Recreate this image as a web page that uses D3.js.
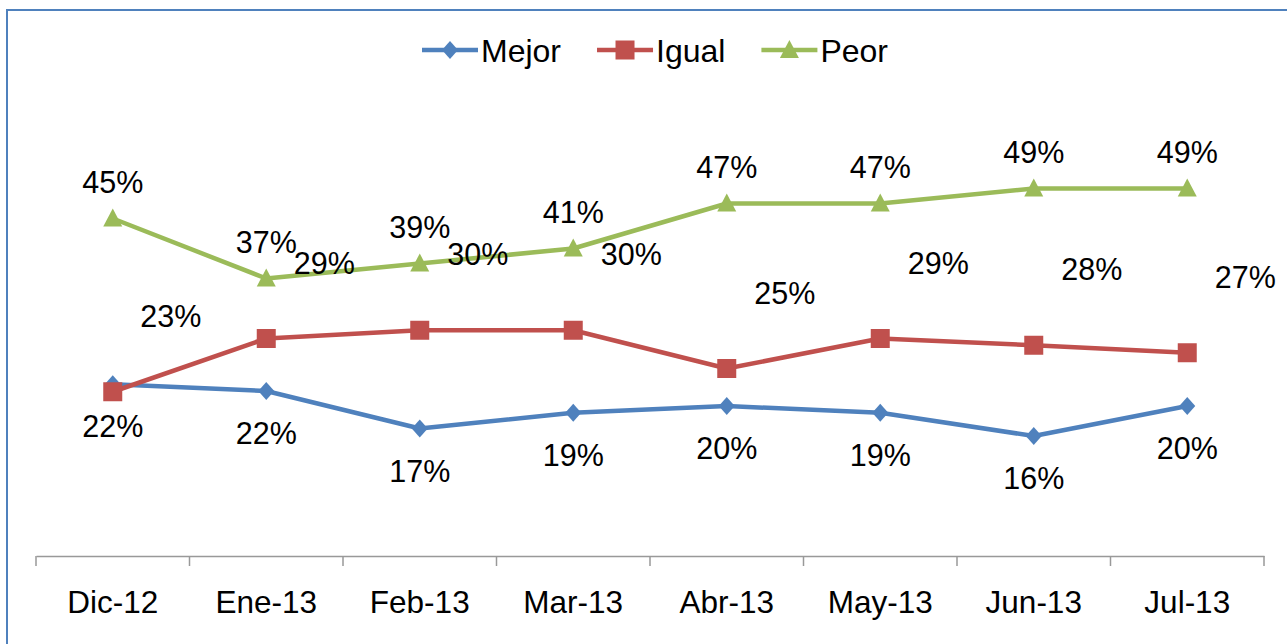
<!DOCTYPE html>
<html>
<head>
<meta charset="utf-8">
<script src="https://cdn.jsdelivr.net/npm/d3@7"></script>
<style>
  body { margin: 0; background: #fff; }
  text { font-family: "Liberation Sans", Arial, sans-serif; }
</style>
</head>
<body>
<div id="chart"></div>
<script>
const categories = ['Dic-12', 'Ene-13', 'Feb-13', 'Mar-13', 'Abr-13', 'May-13', 'Jun-13', 'Jul-13'];
const mejor = [22.9, 22.0, 17.0, 19.1, 20.0, 19.1, 16.0, 20.0];
const igual = [21.9, 29.0, 30.1, 30.1, 25.0, 29.0, 28.1, 27.1];
const peor = [45, 37, 39, 41, 47, 47, 49, 49];
const mejorLabels = ['22%', '22%', '17%', '19%', '20%', '19%', '16%', '20%'];
const igualLabels = ['23%', '29%', '30%', '30%', '25%', '29%', '28%', '27%'];
const peorLabels = ['45%', '37%', '39%', '41%', '47%', '47%', '49%', '49%'];
const seriesNames = ['Mejor', 'Igual', 'Peor'];

const width = 1287;
const height = 644;
const margin = { top: 106, bottom: 88, left: 36, right: 23 };

const series = [
  { name: seriesNames[0], values: mejor, labels: mejorLabels, color: '#4F81BD', shape: 'diamond', dx: 0, dy: 53 },
  { name: seriesNames[1], values: igual, labels: igualLabels, color: '#C0504D', shape: 'square', dx: 58, dy: -65 },
  { name: seriesNames[2], values: peor, labels: peorLabels, color: '#9BBB59', shape: 'triangle', dx: 0, dy: -26 },
];

const svg = d3.select('#chart')
  .append('svg')
  .attr('width', width)
  .attr('height', height);

// chart border
svg.append('rect')
  .attr('x', 7).attr('y', 10)
  .attr('width', width + 20).attr('height', height + 20)
  .attr('fill', 'none')
  .attr('stroke', '#4F81BD')
  .attr('stroke-width', 2);

const x = d3.scaleBand()
  .domain(categories)
  .range([margin.left, width - margin.right])
  .padding(0);

const y = d3.scaleLinear()
  .domain([0, 60])
  .range([height - margin.bottom, margin.top]);

const cx = d => x(d) + x.bandwidth() / 2;

function marker(sel, shape, color) {
  if (shape === 'diamond') {
    sel.append('path').attr('d', 'M0,-9L8,0L0,9L-8,0Z').attr('fill', color);
  } else if (shape === 'square') {
    sel.append('rect').attr('x', -9.5).attr('y', -9.5).attr('width', 19).attr('height', 19).attr('fill', color);
  } else {
    sel.append('path').attr('d', 'M0,-10L9.5,8L-9.5,8Z').attr('fill', color);
  }
}

// x axis
const xAxis = svg.append('g')
  .attr('transform', `translate(0,${y(0)})`)
  .call(d3.axisBottom(x).tickSize(0).tickSizeOuter(0));
xAxis.select('.domain').attr('stroke', '#999').attr('stroke-width', 1.5);
xAxis.selectAll('text')
  .attr('y', 57).attr('dy', 0)
  .attr('font-size', 31.5)
  .attr('font-family', '"Liberation Sans", Arial, sans-serif')
  .attr('fill', '#000');

const boundaries = categories.map(d => x(d)).concat([x.range()[1]]);
svg.append('g')
  .selectAll('line')
  .data(boundaries)
  .enter()
  .append('line')
  .attr('x1', d => d).attr('x2', d => d)
  .attr('y1', y(0)).attr('y2', y(0) + 10)
  .attr('stroke', '#999')
  .attr('stroke-width', 1.5);

const line = d3.line()
  .x((d, i) => cx(categories[i]))
  .y(d => y(d));

series.forEach(s => {
  svg.append('path')
    .datum(s.values)
    .attr('d', line)
    .attr('fill', 'none')
    .attr('stroke', s.color)
    .attr('stroke-width', 4.5)
    .attr('stroke-linejoin', 'round');
});

series.forEach(s => {
  s.values.forEach((v, i) => {
    const g = svg.append('g').attr('transform', `translate(${cx(categories[i])},${y(v)})`);
    marker(g, s.shape, s.color);
  });
});

series.forEach(s => {
  svg.append('g')
    .selectAll('text')
    .data(s.values)
    .enter()
    .append('text')
    .attr('x', (d, i) => cx(categories[i]) + s.dx)
    .attr('y', d => y(d) + s.dy)
    .attr('text-anchor', 'middle')
    .attr('font-size', 30.5)
    .attr('fill', '#000')
    .text((d, i) => s.labels[i]);
});

// legend
const legend = svg.append('g').attr('transform', 'translate(422,50)');
let lx = 0;
series.forEach(s => {
  const item = legend.append('g').attr('transform', `translate(${lx},0)`);
  item.append('line')
    .attr('x1', 0).attr('x2', 56)
    .attr('y1', 0).attr('y2', 0)
    .attr('stroke', s.color)
    .attr('stroke-width', 4.5);
  const m = item.append('g').attr('transform', 'translate(28,0)');
  marker(m, s.shape, s.color);
  const t = item.append('text')
    .attr('x', 59).attr('y', 11.5)
    .attr('font-size', 32)
    .attr('fill', '#000')
    .text(s.name);
  lx += 59 + t.node().getComputedTextLength() + 36;
});
</script>
</body>
</html>
